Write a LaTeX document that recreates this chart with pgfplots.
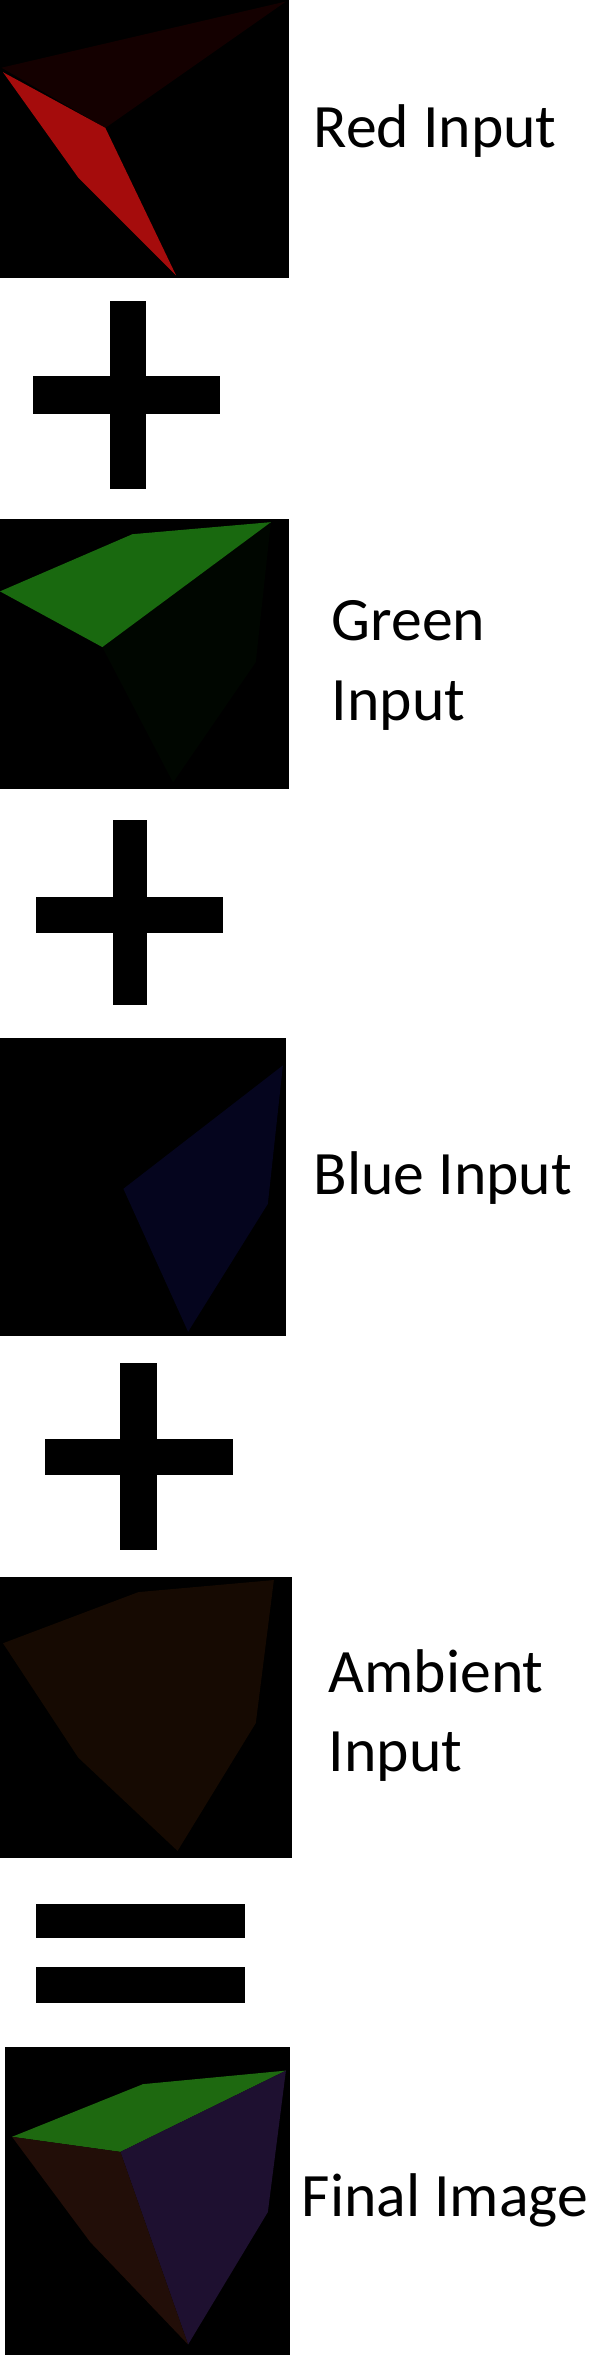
\documentclass[border=0pt]{standalone}
\usepackage{pgfplots}
\pgfplotsset{compat=1.18}
\usepackage{fontspec}
\setmainfont{Carlito}
\begin{document}
\begin{tikzpicture}
\begin{axis}[scale only axis, width=400pt, height=1570pt, xmin=0, xmax=400, ymin=0, ymax=1570, y dir=reverse, hide axis, clip=false]
% panel 1
\addplot[fill=black, draw=none] coordinates {(0,0)(192,0)(192,185)(0,185)} --cycle;
\addplot[fill={rgb,255:red,20;green,0;blue,0}, draw=none] coordinates {(1,45)(190,1)(70,85)} --cycle;
\addplot[fill={rgb,255:red,165;green,12;blue,12}, draw=none] coordinates {(2,48)(70,85)(117,183)(52,118)} --cycle;
% plus 1
\addplot[fill=black, draw=none] coordinates {(73,200)(97,200)(97,325)(73,325)} --cycle;
\addplot[fill=black, draw=none] coordinates {(22,250)(146,250)(146,275)(22,275)} --cycle;
% panel 2
\addplot[fill=black, draw=none] coordinates {(0,345)(192,345)(192,524)(0,524)} --cycle;
\addplot[fill={rgb,255:red,0;green,6;blue,0}, draw=none] coordinates {(68,430)(180,347)(170,440)(115,520)} --cycle;
\addplot[fill={rgb,255:red,25;green,105;blue,15}, draw=none] coordinates {(0,393)(88,355)(180,347)(68,430)} --cycle;
% plus 2
\addplot[fill=black, draw=none] coordinates {(75,545)(98,545)(98,668)(75,668)} --cycle;
\addplot[fill=black, draw=none] coordinates {(24,596)(148,596)(148,620)(24,620)} --cycle;
% panel 3
\addplot[fill=black, draw=none] coordinates {(0,690)(190,690)(190,888)(0,888)} --cycle;
\addplot[fill={rgb,255:red,5;green,5;blue,30}, draw=none] coordinates {(82,790)(188,708)(178,800)(125,885)} --cycle;
% plus 3
\addplot[fill=black, draw=none] coordinates {(80,906)(104,906)(104,1030)(80,1030)} --cycle;
\addplot[fill=black, draw=none] coordinates {(30,956)(155,956)(155,980)(30,980)} --cycle;
% panel 4
\addplot[fill=black, draw=none] coordinates {(0,1048)(194,1048)(194,1235)(0,1235)} --cycle;
\addplot[fill={rgb,255:red,22;green,10;blue,2}, draw=none] coordinates {(2,1092)(92,1058)(182,1050)(170,1145)(118,1230)(52,1168)} --cycle;
% equals
\addplot[fill=black, draw=none] coordinates {(24,1265)(163,1265)(163,1288)(24,1288)} --cycle;
\addplot[fill=black, draw=none] coordinates {(24,1307)(163,1307)(163,1331)(24,1331)} --cycle;
% panel 5
\addplot[fill=black, draw=none] coordinates {(3,1360)(193,1360)(193,1565)(3,1565)} --cycle;
\addplot[fill={rgb,255:red,30;green,105;blue,16}, draw=none] coordinates {(8,1420)(95,1385)(190,1376)(80,1430)} --cycle;
\addplot[fill={rgb,255:red,30;green,16;blue,48}, draw=none] coordinates {(80,1430)(190,1376)(178,1470)(125,1558)} --cycle;
\addplot[fill={rgb,255:red,34;green,14;blue,8}, draw=none] coordinates {(8,1420)(80,1430)(125,1558)(60,1490)} --cycle;
% texts
\node[anchor=west, font=\fontsize{41}{46}\selectfont] at (axis cs:205,87) {Red Input};
\node[anchor=west, font=\fontsize{41}{53}\selectfont, align=left] at (axis cs:217,442) {Green\\Input};
\node[anchor=west, font=\fontsize{41}{46}\selectfont] at (axis cs:205,783) {Blue Input};
\node[anchor=west, font=\fontsize{41}{53}\selectfont, align=left] at (axis cs:215,1140) {Ambient\\Input};
\node[anchor=west, font=\fontsize{41}{46}\selectfont] at (axis cs:197,1462) {Final Image};
\end{axis}
\end{tikzpicture}
\end{document}
